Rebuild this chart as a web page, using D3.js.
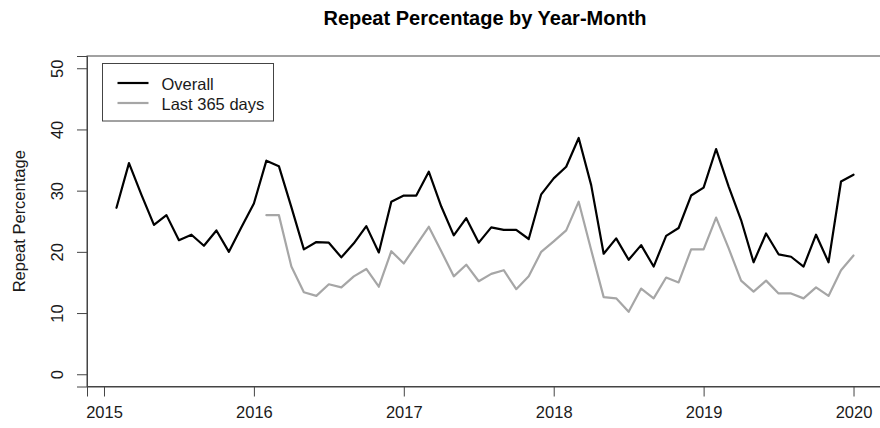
<!DOCTYPE html>
<meta charset="utf-8">
<style>
body {
  margin: 0;
  background: #fff;
}

svg {
  display: block;
  font-family: "Liberation Sans", Arial, sans-serif;
}

.frame {
  fill: none;
  stroke: #444;
  stroke-width: 1;
}

.line {
  fill: none;
  stroke-width: 2.2;
  stroke-linejoin: round;
  stroke-linecap: round;
}
</style>
<body>
<div id="chart"></div>
<script src="https://d3js.org/d3.v7.min.js"></script>
<script>

// monthly repeat percentage, Feb 2015 .. Jan 2020
var overall = [
  27.2, 34.5, 29.3, 24.4, 26.0, 21.9, 22.8, 21.0, 23.5, 20.0, 24.0,
  27.9, 34.9, 34.0, 27.3, 20.4, 21.6, 21.5, 19.1, 21.4, 24.2, 19.9, 28.2,
  29.2, 29.2, 33.1, 27.4, 22.7, 25.5, 21.5, 24.0, 23.6, 23.6, 22.1, 29.4,
  32.0, 33.9, 38.6, 30.9, 19.7, 22.2, 18.7, 21.1, 17.6, 22.6, 23.9, 29.2,
  30.5, 36.8, 30.7, 25.2, 18.3, 23.0, 19.6, 19.2, 17.6, 22.8, 18.3, 31.5,
  32.6
];
var overallStart = [2015, 2];   // year, month

// Feb 2016 .. Jan 2020
var last365 = [
  26.0, 26.0, 17.6, 13.4, 12.8, 14.7, 14.2, 16.0, 17.2, 14.3, 20.1,
  18.1, 21.1, 24.1, 20.1, 16.0, 17.9, 15.2, 16.4, 17.0, 13.9, 16.0, 20.0,
  21.7, 23.5, 28.2, 20.3, 12.6, 12.4, 10.2, 14.0, 12.4, 15.8, 15.0, 20.4,
  20.4, 25.6, 20.6, 15.3, 13.5, 15.3, 13.2, 13.2, 12.4, 14.2, 12.8, 17.0,
  19.4
];
var last365Start = [2016, 2];

var yearTicks = [2015, 2016, 2017, 2018, 2019, 2020];
var pctTicks = [0, 10, 20, 30, 40, 50];

var seriesNames = ["Overall", "Last 365 days"];
var seriesColors = ["#000000", "#a6a6a6"];

function toPoints(values, start) {
  return values.map(function(v, i) {
    return {t: start[0] + (start[1] - 1 + i) / 12, v: v};
  });
}

var series = [toPoints(overall, overallStart), toPoints(last365, last365Start)];

// plot region, R style (4% padding around the data range)
var box = {left: 87, right: 883, top: 56, bottom: 386.5};
var W = 880, H = 428;

var tMin = d3.min(series[0], d => d.t), tMax = d3.max(series[0], d => d.t);
var pad = (tMax - tMin) * 0.04;

var x = d3.scaleLinear().domain([tMin - pad, tMax + pad]).range([box.left, box.right]);
var y = d3.scaleLinear().domain([-2, 52]).range([box.bottom, box.top]);

var svg = d3.select("#chart").append("svg")
    .attr("width", W)
    .attr("height", H);

svg.append("defs").append("clipPath").attr("id", "clip")
  .append("rect")
    .attr("x", box.left).attr("y", box.top)
    .attr("width", box.right - box.left).attr("height", box.bottom - box.top);

// the lines
var line = d3.line().x(d => x(d.t)).y(d => y(d.v));

svg.append("g").attr("clip-path", "url(#clip)")
  .selectAll("path")
  .data(series)
  .enter().append("path")
    .attr("class", "line")
    .attr("d", line)
    .style("stroke", (d, i) => seriesColors[i]);

// frame
svg.append("rect")
  .attr("class", "frame")
  .attr("x", box.left).attr("y", box.top)
  .attr("width", box.right - box.left).attr("height", box.bottom - box.top);

// x axis
var xAxis = svg.append("g")
  .attr("transform", "translate(0," + box.bottom + ")")
  .call(d3.axisBottom(x).tickValues(yearTicks).tickFormat(d3.format("d")).tickSize(10).tickPadding(10));

// y axis
var yAxis = svg.append("g")
  .attr("transform", "translate(" + box.left + ",0)")
  .call(d3.axisLeft(y).tickValues(pctTicks).tickSize(10));

[xAxis, yAxis].forEach(function(g) {
  g.select(".domain").attr("stroke", "#444");
  g.selectAll(".tick line").attr("stroke", "#444");
  g.selectAll(".tick text")
    .attr("fill", "#1a1a1a")
    .style("font-family", "'Liberation Sans', Arial, sans-serif")
    .style("font-size", "16.5px");
});

xAxis.selectAll(".tick text").attr("dy", "0.71em");

// y tick labels run along the axis, as in R
yAxis.selectAll(".tick text")
  .attr("x", null).attr("dy", null)
  .attr("text-anchor", "middle")
  .attr("transform", "translate(-24,0) rotate(-90)");

// y axis title
svg.append("text")
  .attr("transform", "translate(25," + ((box.top + box.bottom) / 2) + ") rotate(-90)")
  .attr("text-anchor", "middle")
  .style("font-size", "16.5px")
  .attr("fill", "#1a1a1a")
  .text("Repeat Percentage");

// title
svg.append("text")
  .attr("x", (box.left + box.right) / 2)
  .attr("y", 25)
  .attr("text-anchor", "middle")
  .style("font-size", "20px")
  .style("font-weight", "bold")
  .attr("fill", "#000")
  .text("Repeat Percentage by Year-Month");

// legend
var legend = svg.append("g");

legend.append("rect")
  .attr("class", "frame")
  .attr("x", 102.5).attr("y", 63.5)
  .attr("width", 171).attr("height", 57.5);

var item = legend.selectAll(".item")
  .data(seriesNames)
  .enter().append("g")
    .attr("transform", (d, i) => "translate(0," + (89.5 + i * 20) + ")");

item.append("line")
  .attr("x1", 117.5).attr("x2", 148.5)
  .attr("y1", -6.5).attr("y2", -6.5)
  .attr("stroke", (d, i) => seriesColors[i])
  .attr("stroke-width", 2.2);

item.append("text")
  .attr("x", 161.5)
  .style("font-size", "16.5px")
  .attr("fill", "#1a1a1a")
  .text(d => d);

</script>
</body>
